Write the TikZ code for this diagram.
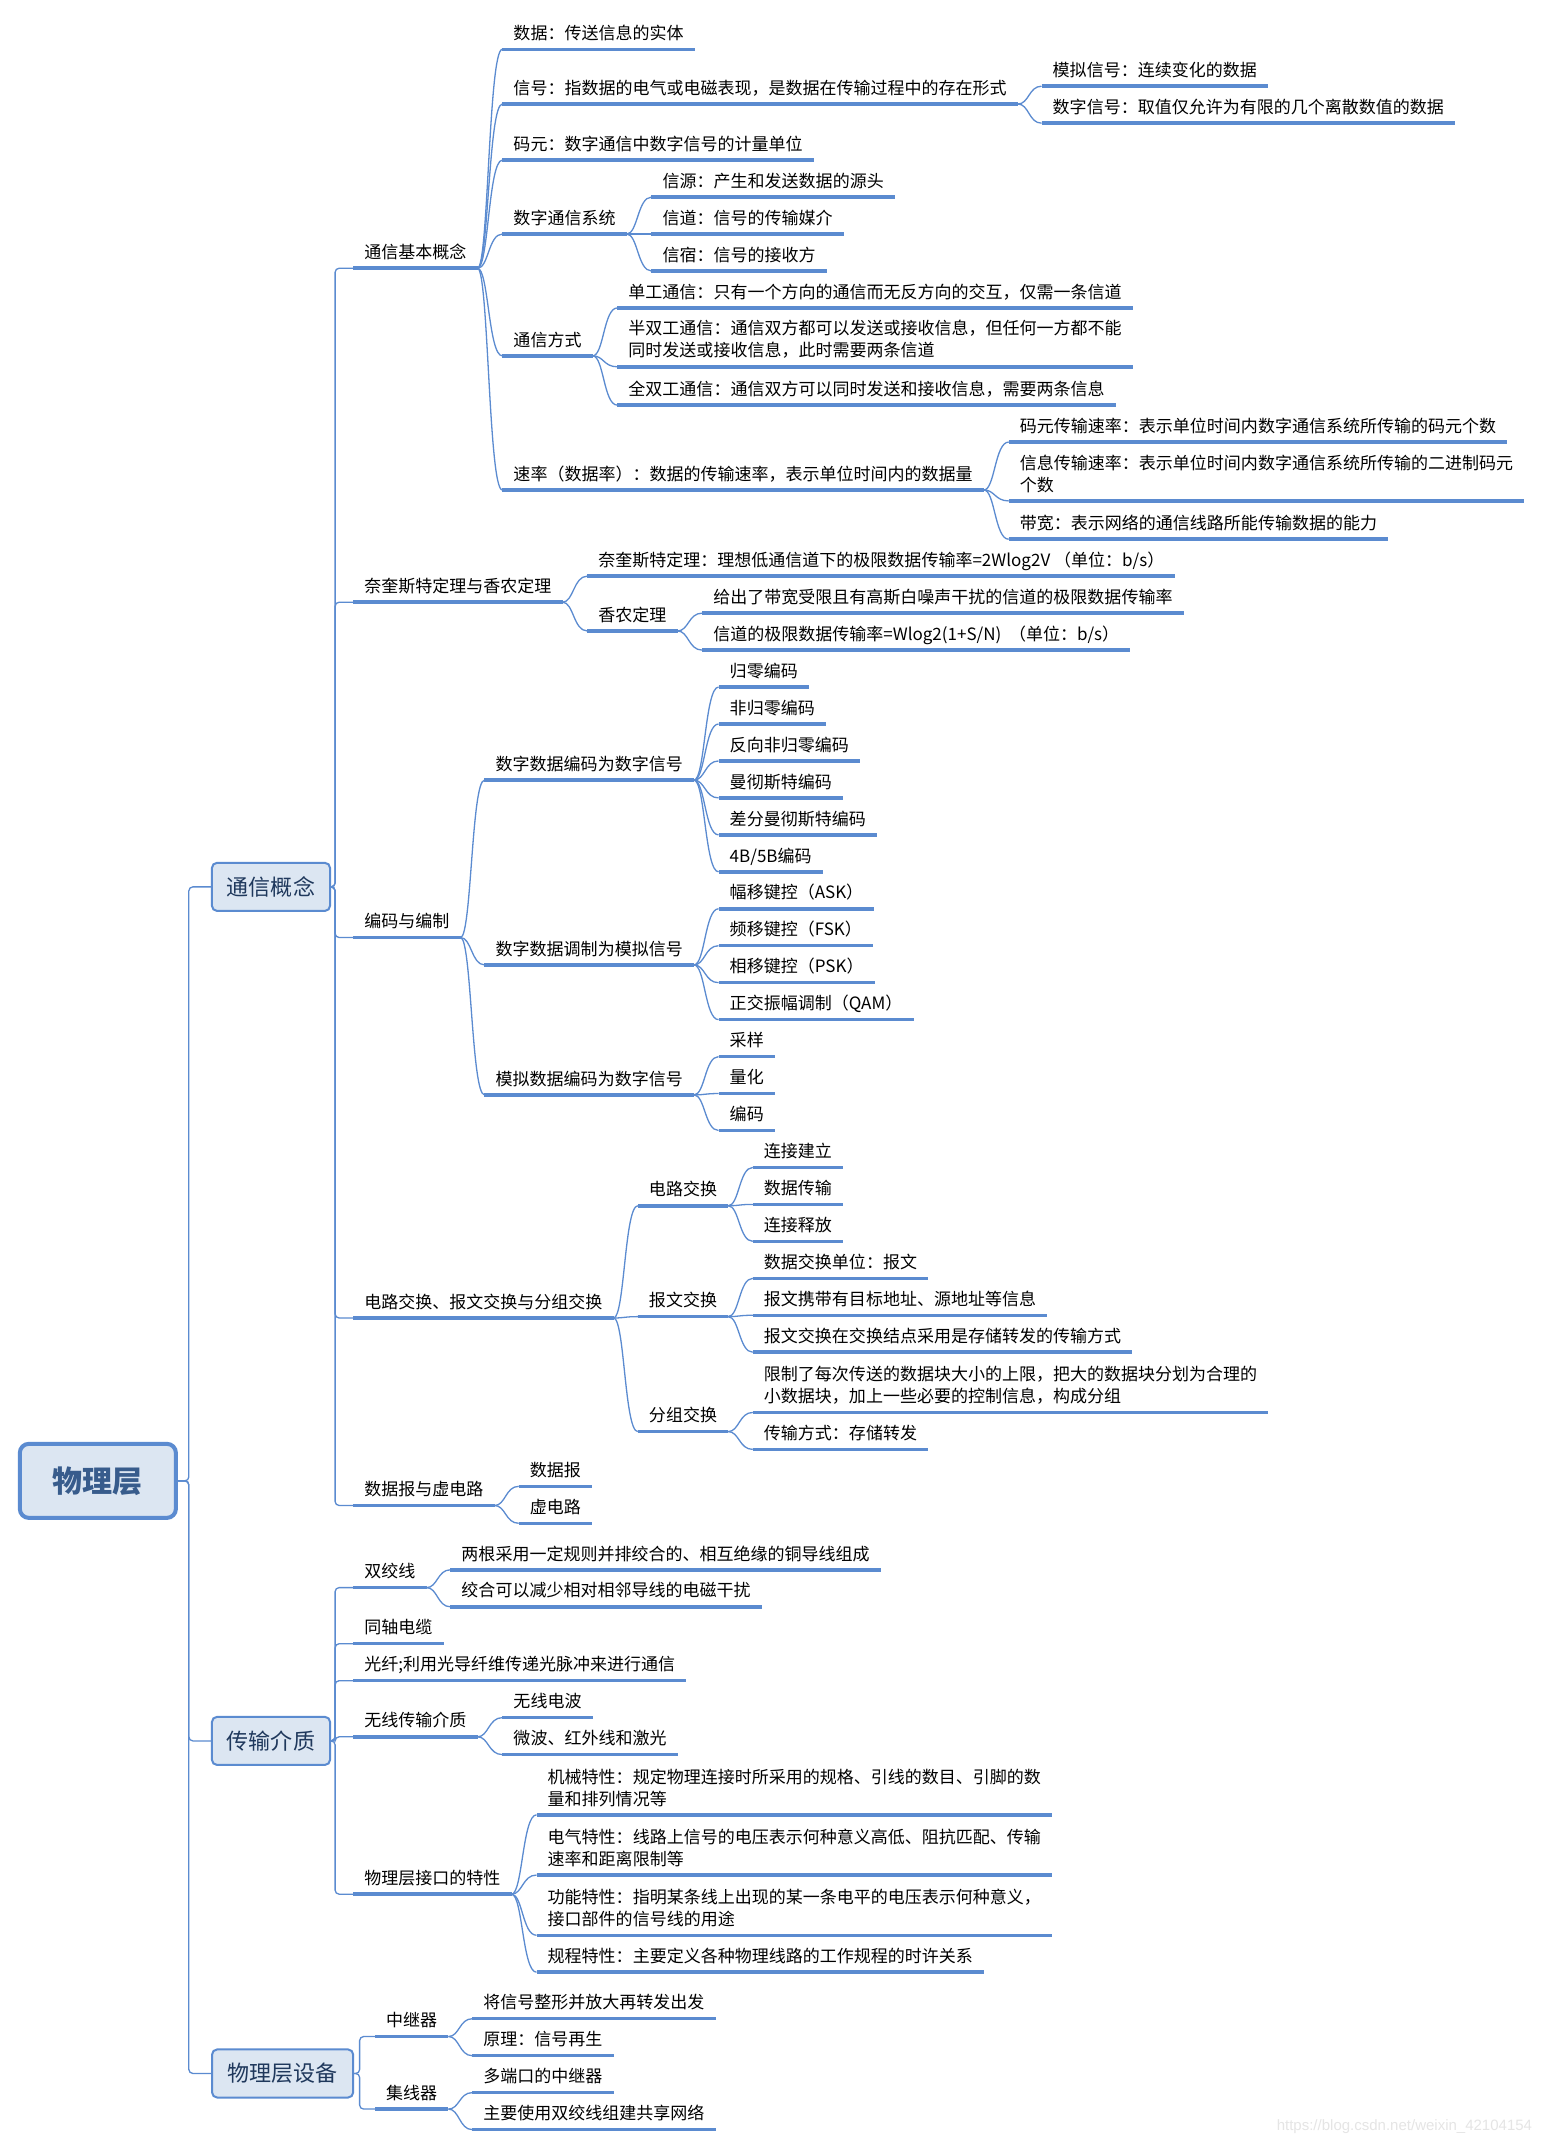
\documentclass[tikz,border=0pt]{standalone}
\usepackage{fontspec}
\newfontfamily\cjk{Noto Sans CJK SC}
\newfontfamily\wmfont{Liberation Sans}
\usetikzlibrary{calc}
\definecolor{lineblue}{RGB}{91,139,208}
\definecolor{boxfill}{RGB}{220,230,242}
\definecolor{topictext}{RGB}{31,56,92}
\definecolor{roottext}{RGB}{56,92,140}
\begin{document}
\begin{tikzpicture}[x=1.368pt, y=-1.368pt,
  every node/.style={font=\cjk\fontsize{17}{22}\selectfont},
  uline/.style={draw=lineblue, line width=3.5pt},
  leaf/.style={anchor=south west, align=left, inner xsep=11pt, inner ysep=3pt,
    execute at end node=\strut,
    append after command={(\tikzlastnode.south west) edge[uline] (\tikzlastnode.south east)}},
  link/.style={draw=lineblue, line width=1.3pt,
    to path={.. controls ($(\tikztostart)+(8,0)$) and ($(\tikztostart|-\tikztotarget)+(8,0)$) .. (\tikztotarget)}},
  elbow/.style={draw=lineblue, line width=1.3pt, rounded corners=4pt,
    to path={-- ++(#1,0) |- (\tikztotarget)}},
  elbow/.default=3,
  topic/.style={draw=lineblue, line width=2pt, fill=boxfill, rounded corners=5pt, text=topictext,
    font=\cjk\fontsize{22}{26}\selectfont, minimum height=48pt, minimum width=118pt},
  central/.style={draw=lineblue, line width=4pt, fill=boxfill, rounded corners=9pt, text=roottext,
    font=\cjk\bfseries\fontsize{30}{36}\selectfont, minimum width=156pt, minimum height=74pt}]
  \path[use as bounding box, fill=white] (0,0) rectangle (1127,1568);

  \node[central] (wl) at (71.5,1082) {物理层};
  \node[topic] (tx) at (198,648) {通信概念};
  \node[topic] (cz) at (198,1272) {传输介质};
  \node[topic, minimum width=141pt] (sb) at (206.5,1515) {物理层设备};

  \node[leaf] (jb) at (258,196) {通信基本概念};
  \node[leaf] (nq) at (258,440) {奈奎斯特定理与香农定理};
  \node[leaf] (bm) at (258,685) {编码与编制};
  \node[leaf] (jh) at (258,963) {电路交换、报文交换与分组交换};
  \node[leaf] (bj) at (258,1100) {数据报与虚电路};

  \node[leaf] (sj) at (367,36) {数据：传送信息的实体};
  \node[leaf] (xh) at (367,76) {信号：指数据的电气或电磁表现，是数据在传输过程中的存在形式};
  \node[leaf] (my) at (367,117) {码元：数字通信中数字信号的计量单位};
  \node[leaf] (xt) at (367,171) {数字通信系统};
  \node[leaf] (fs) at (367,260) {通信方式};
  \node[leaf] (sl) at (367,358) {速率（数据率）：数据的传输速率，表示单位时间内的数据量};
  \node[leaf] (mn) at (761,63) {模拟信号：连续变化的数据};
  \node[leaf] (sz) at (761,90) {数字信号：取值仅允许为有限的几个离散数值的数据};
  \node[leaf] (xy) at (476,144) {信源：产生和发送数据的源头};
  \node[leaf] (xd) at (476,171) {信道：信号的传输媒介};
  \node[leaf] (xs) at (476,198) {信宿：信号的接收方};
  \node[leaf] (dg) at (451,225) {单工通信：只有一个方向的通信而无反方向的交互，仅需一条信道};
  \node[leaf] (bsg) at (451,268) {半双工通信：通信双方都可以发送或接收信息，但任何一方都不能\\同时发送或接收信息，此时需要两条信道};
  \node[leaf] (qsg) at (451,296) {全双工通信：通信双方可以同时发送和接收信息，需要两条信息};
  \node[leaf] (mysl) at (737,323) {码元传输速率：表示单位时间内数字通信系统所传输的码元个数};
  \node[leaf] (xxsl) at (737,366) {信息传输速率：表示单位时间内数字通信系统所传输的二进制码元\\个数};
  \node[leaf] (dk) at (737,394) {带宽：表示网络的通信线路所能传输数据的能力};

  \node[leaf] (nqs) at (429,421) {奈奎斯特定理：理想低通信道下的极限数据传输率=2Wlog2V\ （单位：b/s）};
  \node[leaf] (xn) at (429,461) {香农定理};
  \node[leaf] (gc) at (513,448) {给出了带宽受限且有高斯白噪声干扰的信道的极限数据传输率};
  \node[leaf] (jx) at (513,475) {信道的极限数据传输率=Wlog2(1+S/N)\ \ （单位：b/s）};

  \node[leaf] (szbm) at (354,570) {数字数据编码为数字信号};
  \node[leaf] (sztz) at (354,705) {数字数据调制为模拟信号};
  \node[leaf] (mnbm) at (354,800) {模拟数据编码为数字信号};
  \node[leaf] (gl) at (525,502) {归零编码};
  \node[leaf] (fgl) at (525,529) {非归零编码};
  \node[leaf] (fxgl) at (525,556) {反向非归零编码};
  \node[leaf] (mc) at (525,583) {曼彻斯特编码};
  \node[leaf] (cfmc) at (525,610) {差分曼彻斯特编码};
  \node[leaf] (bb) at (525,637) {4B/5B编码};
  \node[leaf] (ask) at (525,664) {幅移键控（ASK）};
  \node[leaf] (fsk) at (525,691) {频移键控（FSK）};
  \node[leaf] (psk) at (525,718) {相移键控（PSK）};
  \node[leaf] (qam) at (525,745) {正交振幅调制（QAM）};
  \node[leaf] (cy) at (525,772) {采样};
  \node[leaf] (lh) at (525,799) {量化};
  \node[leaf] (bmm) at (525,826) {编码};

  \node[leaf] (dl) at (466,881) {电路交换};
  \node[leaf] (bw) at (466,962) {报文交换};
  \node[leaf] (fz) at (466,1046) {分组交换};
  \node[leaf] (ljjl) at (550,853) {连接建立};
  \node[leaf] (sjcs) at (550,880) {数据传输};
  \node[leaf] (ljsf) at (550,907) {连接释放};
  \node[leaf] (jhdw) at (550,934) {数据交换单位：报文};
  \node[leaf] (bwxd) at (550,961) {报文携带有目标地址、源地址等信息};
  \node[leaf] (bwcc) at (550,988) {报文交换在交换结点采用是存储转发的传输方式};
  \node[leaf] (xz) at (550,1032) {限制了每次传送的数据块大小的上限，把大的数据块分划为合理的\\小数据块，加上一些必要的控制信息，构成分组};
  \node[leaf] (csfs) at (550,1059) {传输方式：存储转发};

  \node[leaf] (sjb) at (379,1086) {数据报};
  \node[leaf] (xdl) at (379,1113) {虚电路};

  \node[leaf] (sjx) at (258,1160) {双绞线};
  \node[leaf] (tz) at (258,1201) {同轴电缆};
  \node[leaf] (gx) at (258,1228) {光纤;利用光导纤维传递光脉冲来进行通信};
  \node[leaf] (wx) at (258,1269) {无线传输介质};
  \node[leaf] (jk) at (258,1384) {物理层接口的特性};
  \node[leaf] (lg) at (329,1147) {两根采用一定规则并排绞合的、相互绝缘的铜导线组成};
  \node[leaf] (jhks) at (329,1174) {绞合可以减少相对相邻导线的电磁干扰};
  \node[leaf] (wxd) at (367,1255) {无线电波};
  \node[leaf] (wb) at (367,1282) {微波、红外线和激光};
  \node[leaf] (jx1) at (392,1326) {机械特性：规定物理连接时所采用的规格、引线的数目、引脚的数\\量和排列情况等};
  \node[leaf] (dq) at (392,1370) {电气特性：线路上信号的电压表示何种意义高低、阻抗匹配、传输\\速率和距离限制等};
  \node[leaf] (gn) at (392,1414) {功能特性：指明某条线上出现的某一条电平的电压表示何种意义，\\接口部件的信号线的用途};
  \node[leaf] (gctx) at (392,1441) {规程特性：主要定义各种物理线路的工作规程的时许关系};

  \node[leaf] (zj) at (274,1488) {中继器};
  \node[leaf] (jxq) at (274,1541) {集线器};
  \node[leaf] (zx) at (345,1475) {将信号整形并放大再转发出发};
  \node[leaf] (yl) at (345,1502) {原理：信号再生};
  \node[leaf] (ddk) at (345,1529) {多端口的中继器};
  \node[leaf] (zy) at (345,1556) {主要使用双绞线组建共享网络};

  \node[font=\wmfont\fontsize{15}{18}\selectfont, text=black!10, anchor=east] (wm) at (1122,1554) {https://blog.csdn.net/weixin\_42104154};

  \draw[elbow=8] (wl.east) to (tx.west);
  \draw[elbow=8] (wl.east) to (cz.west);
  \draw[elbow=8] (wl.east) to (sb.west);

  \draw[elbow] (tx.east) to (jb.south west);
  \draw[elbow] (tx.east) to (nq.south west);
  \draw[elbow] (tx.east) to (bm.south west);
  \draw[elbow] (tx.east) to (jh.south west);
  \draw[elbow] (tx.east) to (bj.south west);
  \draw[elbow] (cz.east) to (sjx.south west);
  \draw[elbow] (cz.east) to (tz.south west);
  \draw[elbow] (cz.east) to (gx.south west);
  \draw[elbow] (cz.east) to (wx.south west);
  \draw[elbow] (cz.east) to (jk.south west);
  \draw[elbow=4] (sb.east) to (zj.south west);
  \draw[elbow=4] (sb.east) to (jxq.south west);

  \draw[link] (jb.south east) to (sj.south west);
  \draw[link] (jb.south east) to (xh.south west);
  \draw[link] (jb.south east) to (my.south west);
  \draw[link] (jb.south east) to (xt.south west);
  \draw[link] (jb.south east) to (fs.south west);
  \draw[link] (jb.south east) to (sl.south west);
  \draw[link] (xh.south east) to (mn.south west);
  \draw[link] (xh.south east) to (sz.south west);
  \draw[link] (xt.south east) to (xy.south west);
  \draw[link] (xt.south east) to (xd.south west);
  \draw[link] (xt.south east) to (xs.south west);
  \draw[link] (fs.south east) to (dg.south west);
  \draw[link] (fs.south east) to (bsg.south west);
  \draw[link] (fs.south east) to (qsg.south west);
  \draw[link] (sl.south east) to (mysl.south west);
  \draw[link] (sl.south east) to (xxsl.south west);
  \draw[link] (sl.south east) to (dk.south west);

  \draw[link] (nq.south east) to (nqs.south west);
  \draw[link] (nq.south east) to (xn.south west);
  \draw[link] (xn.south east) to (gc.south west);
  \draw[link] (xn.south east) to (jx.south west);

  \draw[link] (bm.south east) to (szbm.south west);
  \draw[link] (bm.south east) to (sztz.south west);
  \draw[link] (bm.south east) to (mnbm.south west);
  \draw[link] (szbm.south east) to (gl.south west);
  \draw[link] (szbm.south east) to (fgl.south west);
  \draw[link] (szbm.south east) to (fxgl.south west);
  \draw[link] (szbm.south east) to (mc.south west);
  \draw[link] (szbm.south east) to (cfmc.south west);
  \draw[link] (szbm.south east) to (bb.south west);
  \draw[link] (sztz.south east) to (ask.south west);
  \draw[link] (sztz.south east) to (fsk.south west);
  \draw[link] (sztz.south east) to (psk.south west);
  \draw[link] (sztz.south east) to (qam.south west);
  \draw[link] (mnbm.south east) to (cy.south west);
  \draw[link] (mnbm.south east) to (lh.south west);
  \draw[link] (mnbm.south east) to (bmm.south west);

  \draw[link] (jh.south east) to (dl.south west);
  \draw[link] (jh.south east) to (bw.south west);
  \draw[link] (jh.south east) to (fz.south west);
  \draw[link] (dl.south east) to (ljjl.south west);
  \draw[link] (dl.south east) to (sjcs.south west);
  \draw[link] (dl.south east) to (ljsf.south west);
  \draw[link] (bw.south east) to (jhdw.south west);
  \draw[link] (bw.south east) to (bwxd.south west);
  \draw[link] (bw.south east) to (bwcc.south west);
  \draw[link] (fz.south east) to (xz.south west);
  \draw[link] (fz.south east) to (csfs.south west);

  \draw[link] (bj.south east) to (sjb.south west);
  \draw[link] (bj.south east) to (xdl.south west);

  \draw[link] (sjx.south east) to (lg.south west);
  \draw[link] (sjx.south east) to (jhks.south west);
  \draw[link] (wx.south east) to (wxd.south west);
  \draw[link] (wx.south east) to (wb.south west);
  \draw[link] (jk.south east) to (jx1.south west);
  \draw[link] (jk.south east) to (dq.south west);
  \draw[link] (jk.south east) to (gn.south west);
  \draw[link] (jk.south east) to (gctx.south west);

  \draw[link] (zj.south east) to (zx.south west);
  \draw[link] (zj.south east) to (yl.south west);
  \draw[link] (jxq.south east) to (ddk.south west);
  \draw[link] (jxq.south east) to (zy.south west);
\end{tikzpicture}
\end{document}
